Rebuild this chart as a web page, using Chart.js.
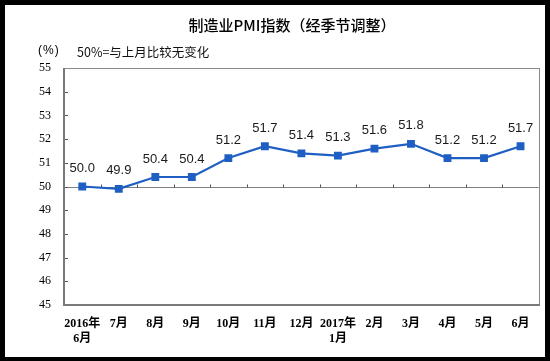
<!DOCTYPE html>
<html><head><meta charset="utf-8">
<script src="https://cdn.jsdelivr.net/npm/chart.js@4"></script>
<style>
html,body{margin:0;padding:0;background:#000;width:550px;height:361px;overflow:hidden;}
#box{position:absolute;left:5px;top:5px;width:540px;height:352px;background:#fff;}
#c{position:absolute;left:0;top:0;}
.t{position:absolute;white-space:nowrap;color:#000;}
#title{left:0;width:574px;text-align:center;top:9px;font:500 15px "Noto Sans CJK SC",sans-serif;}
#unit{left:33px;top:38px;font:12px "Liberation Sans",sans-serif;letter-spacing:1px;}
#note{left:72px;top:37px;font:12.5px "Noto Sans CJK SC","Liberation Sans",sans-serif;color:#111;}
</style></head>
<body>
<div id="box">
<canvas id="c" width="540" height="352"></canvas>
<div class="t" id="title">制造业PMI指数（经季节调整）</div>
<div class="t" id="unit">(%)</div>
<div class="t" id="note">50%=与上月比较无变化</div>
</div>
<script>
const categories = [['2016年','6月'],'7月','8月','9月','10月','11月','12月',['2017年','1月'],'2月','3月','4月','5月','6月'];
const pmiValues = [50.0, 49.9, 50.4, 50.4, 51.2, 51.7, 51.4, 51.3, 51.6, 51.8, 51.2, 51.2, 51.7];
const yMin = 45, yMax = 55, yStep = 1, baseline = 50;

const decor = {
  id: 'decor',
  beforeDatasetsDraw(chart) {
    const {ctx, chartArea: a, scales: {x, y}} = chart;
    ctx.save();
    const yb = Math.round(y.getPixelForValue(baseline)) + 0.5;
    ctx.strokeStyle = '#808080';
    ctx.lineWidth = 1;
    ctx.beginPath(); ctx.moveTo(a.left, yb); ctx.lineTo(a.right, yb); ctx.stroke();
    ctx.strokeStyle = '#555';
    for (let i = 1; i < categories.length; i++) {
      const px = Math.round((x.getPixelForValue(i - 1) + x.getPixelForValue(i)) / 2) + 0.5;
      ctx.beginPath(); ctx.moveTo(px, yb); ctx.lineTo(px, yb - 3); ctx.stroke();
    }
    for (let v = yMin + yStep; v < yMax; v += yStep) {
      const py = Math.round(y.getPixelForValue(v)) + 0.5;
      ctx.beginPath(); ctx.moveTo(a.left, py); ctx.lineTo(a.left + 4, py); ctx.stroke();
    }
    ctx.strokeStyle = '#8a8a8a';
    ctx.lineWidth = 1;
    ctx.strokeRect(Math.round(a.left) + 0.5, Math.round(a.top) + 0.5, Math.round(a.right - a.left), Math.round(a.bottom - a.top));
    ctx.strokeStyle = '#7a7a7a';
    ctx.lineWidth = 2;
    ctx.beginPath();
    ctx.moveTo(Math.round(a.left), Math.round(a.top));
    ctx.lineTo(Math.round(a.left), Math.round(a.bottom));
    ctx.lineTo(Math.round(a.right) + 1, Math.round(a.bottom));
    ctx.stroke();
    ctx.restore();
  },
  afterDatasetsDraw(chart) {
    const {ctx} = chart;
    const meta = chart.getDatasetMeta(0);
    ctx.save();
    ctx.font = '13px "Liberation Sans", Arial, sans-serif';
    ctx.fillStyle = '#1a1a1a';
    ctx.textAlign = 'center';
    ctx.textBaseline = 'middle';
    meta.data.forEach((pt, i) => {
      ctx.fillText(pmiValues[i].toFixed(1), pt.x, pt.y - 18);
    });
    ctx.restore();
  }
};

new Chart(document.getElementById('c'), {
  type: 'line',
  data: {
    labels: categories,
    datasets: [{
      data: pmiValues,
      borderColor: '#1f5fc4',
      backgroundColor: '#1f5fc4',
      borderWidth: 2.2,
      pointStyle: 'rect',
      pointRadius: 4,
      pointHoverRadius: 4,
      tension: 0
    }]
  },
  options: {
    responsive: false,
    animation: false,
    devicePixelRatio: 1,
    layout: {padding: {left: 0, right: 2, top: 63, bottom: 0}},
    plugins: {legend: {display: false}, tooltip: {enabled: false}, title: {display: false}},
    scales: {
      x: {
        offset: true,
        grid: {display: false, drawTicks: false},
        border: {display: false},
        ticks: {
          padding: 11,
          color: '#000',
          maxRotation: 0,
          autoSkip: false,
          font: {family: '"Liberation Serif", "Noto Sans CJK SC", serif', size: 12, weight: 'bold', lineHeight: 1.25}
        },
        afterFit(s) { s.height = 52; }
      },
      y: {
        min: yMin, max: yMax,
        grid: {display: false, drawTicks: false},
        border: {display: false},
        ticks: {
          stepSize: yStep,
          padding: 13,
          color: '#000',
          font: {family: '"Liberation Serif", serif', size: 12}
        },
        afterFit(s) { s.width = 59; }
      }
    }
  },
  plugins: [decor]
});
</script>
</body></html>
